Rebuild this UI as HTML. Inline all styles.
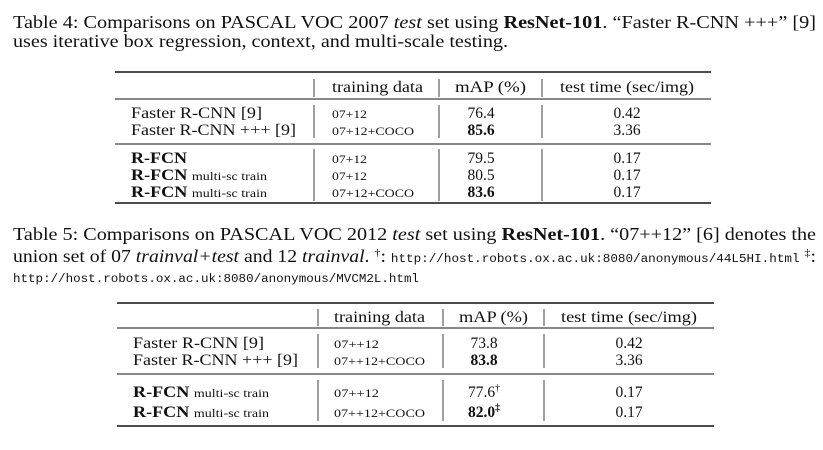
<!DOCTYPE html>
<html><head><meta charset="utf-8"><style>
html,body{margin:0;padding:0;background:#fff;width:823px;height:450px;overflow:hidden}
svg{display:block}
text{font-family:"Liberation Serif",serif;fill:#111}
.m{font-family:"Liberation Mono",monospace}
.b{font-weight:bold}
.i{font-style:italic}
</style></head><body>
<svg width="823" height="450" viewBox="0 0 823 450">
<g>
<text x="13" y="28" font-size="18" textLength="803" lengthAdjust="spacingAndGlyphs">Table 4: Comparisons on PASCAL VOC 2007 <tspan class="i">test</tspan> set using <tspan class="b">ResNet-101</tspan>. “Faster R-CNN +++” [9]</text>
<text x="13" y="47" font-size="18" textLength="495" lengthAdjust="spacingAndGlyphs">uses iterative box regression, context, and multi-scale testing.</text>
</g>
<g stroke="#111" fill="none">
<line x1="115" y1="72" x2="711" y2="72" stroke-width="1.4"/>
<line x1="115" y1="99" x2="711" y2="99" stroke-width="0.9"/>
<line x1="115" y1="144" x2="711" y2="144" stroke-width="0.9"/>
<line x1="115" y1="203" x2="711" y2="203" stroke-width="1.4"/>
<path d="M314 79V97M439 79V97M542 79V97 M314 105V138M439 105V138M542 105V138 M314 149V201M439 149V201M542 149V201" stroke-width="0.8"/>
</g>
<g font-size="15.5">
<text x="332" y="92" textLength="91" lengthAdjust="spacingAndGlyphs">training data</text>
<text x="455" y="92" textLength="71" lengthAdjust="spacingAndGlyphs">mAP (%)</text>
<text x="560" y="92" textLength="134" lengthAdjust="spacingAndGlyphs">test time (sec/img)</text>
<text x="131" y="118" textLength="131" lengthAdjust="spacingAndGlyphs">Faster R-CNN [9]</text>
<text x="131" y="135" textLength="165" lengthAdjust="spacingAndGlyphs">Faster R-CNN +++ [9]</text>
<text x="131" y="163" class="b" textLength="56" lengthAdjust="spacingAndGlyphs">R-FCN</text>
<text x="131" y="180" textLength="136" lengthAdjust="spacingAndGlyphs"><tspan class="b">R-FCN</tspan> <tspan font-size="12">multi-sc train</tspan></text>
<text x="131" y="197" textLength="136" lengthAdjust="spacingAndGlyphs"><tspan class="b">R-FCN</tspan> <tspan font-size="12">multi-sc train</tspan></text>
<g font-size="12">
<text x="332" y="118" textLength="35" lengthAdjust="spacingAndGlyphs">07+12</text>
<text x="332" y="135" textLength="82" lengthAdjust="spacingAndGlyphs">07+12+COCO</text>
<text x="332" y="163" textLength="35" lengthAdjust="spacingAndGlyphs">07+12</text>
<text x="332" y="180" textLength="35" lengthAdjust="spacingAndGlyphs">07+12</text>
<text x="332" y="197" textLength="82" lengthAdjust="spacingAndGlyphs">07+12+COCO</text>
</g>
<g text-anchor="middle">
<text x="481" y="118">76.4</text><text x="481" y="135" class="b">85.6</text>
<text x="481" y="163">79.5</text><text x="481" y="180">80.5</text><text x="481" y="197" class="b">83.6</text>
<text x="627" y="118">0.42</text><text x="627" y="135">3.36</text>
<text x="627" y="163">0.17</text><text x="627" y="180">0.17</text><text x="627" y="197">0.17</text>
</g>
</g>
<g>
<text x="13" y="240" font-size="18" textLength="803" lengthAdjust="spacingAndGlyphs">Table 5: Comparisons on PASCAL VOC 2012 <tspan class="i">test</tspan> set using <tspan class="b">ResNet-101</tspan>. “07++12” [6] denotes the</text>
<text x="13" y="262" font-size="18" textLength="803" lengthAdjust="spacingAndGlyphs">union set of 07 <tspan class="i">trainval+test</tspan> and 12 <tspan class="i">trainval</tspan>. <tspan baseline-shift="super" font-size="11">†</tspan>: <tspan class="m" font-size="11.5">http://host.robots.ox.ac.uk:8080/anonymous/44L5HI.html</tspan> <tspan baseline-shift="super" font-size="11">‡</tspan>:</text>
<text x="13" y="282" class="m" font-size="11.5" textLength="406" lengthAdjust="spacingAndGlyphs">http://host.robots.ox.ac.uk:8080/anonymous/MVCM2L.html</text>
</g>
<g stroke="#111" fill="none">
<line x1="117" y1="303" x2="714" y2="303" stroke-width="1.4"/>
<line x1="117" y1="328" x2="714" y2="328" stroke-width="0.9"/>
<line x1="117" y1="374" x2="714" y2="374" stroke-width="0.9"/>
<line x1="117" y1="426" x2="714" y2="426" stroke-width="1.4"/>
<path d="M318 309V326M443 309V326M544 309V326 M318 334V368M443 334V368M544 334V368 M318 380V421M443 380V421M544 380V421" stroke-width="0.8"/>
</g>
<g font-size="15.5">
<text x="334" y="322" textLength="91" lengthAdjust="spacingAndGlyphs">training data</text>
<text x="459" y="322" textLength="69" lengthAdjust="spacingAndGlyphs">mAP (%)</text>
<text x="561" y="322" textLength="136" lengthAdjust="spacingAndGlyphs">test time (sec/img)</text>
<text x="133" y="348" textLength="131" lengthAdjust="spacingAndGlyphs">Faster R-CNN [9]</text>
<text x="133" y="365" textLength="165" lengthAdjust="spacingAndGlyphs">Faster R-CNN +++ [9]</text>
<text x="133" y="397" textLength="136" lengthAdjust="spacingAndGlyphs"><tspan class="b">R-FCN</tspan> <tspan font-size="12">multi-sc train</tspan></text>
<text x="133" y="417" textLength="136" lengthAdjust="spacingAndGlyphs"><tspan class="b">R-FCN</tspan> <tspan font-size="12">multi-sc train</tspan></text>
<g font-size="12">
<text x="334" y="348" textLength="45" lengthAdjust="spacingAndGlyphs">07++12</text>
<text x="334" y="365" textLength="91" lengthAdjust="spacingAndGlyphs">07++12+COCO</text>
<text x="334" y="397" textLength="45" lengthAdjust="spacingAndGlyphs">07++12</text>
<text x="334" y="417" textLength="91" lengthAdjust="spacingAndGlyphs">07++12+COCO</text>
</g>
<g text-anchor="middle">
<text x="484" y="348">73.8</text><text x="484" y="365" class="b">83.8</text>
<text x="484" y="397">77.6<tspan font-size="10" dy="-6">†</tspan></text>
<text x="484" y="417" class="b">82.0<tspan font-size="10" dy="-6">‡</tspan></text>
<text x="629" y="348">0.42</text><text x="629" y="365">3.36</text>
<text x="629" y="397">0.17</text><text x="629" y="417">0.17</text>
</g>
</g>
</svg>
</body></html>
